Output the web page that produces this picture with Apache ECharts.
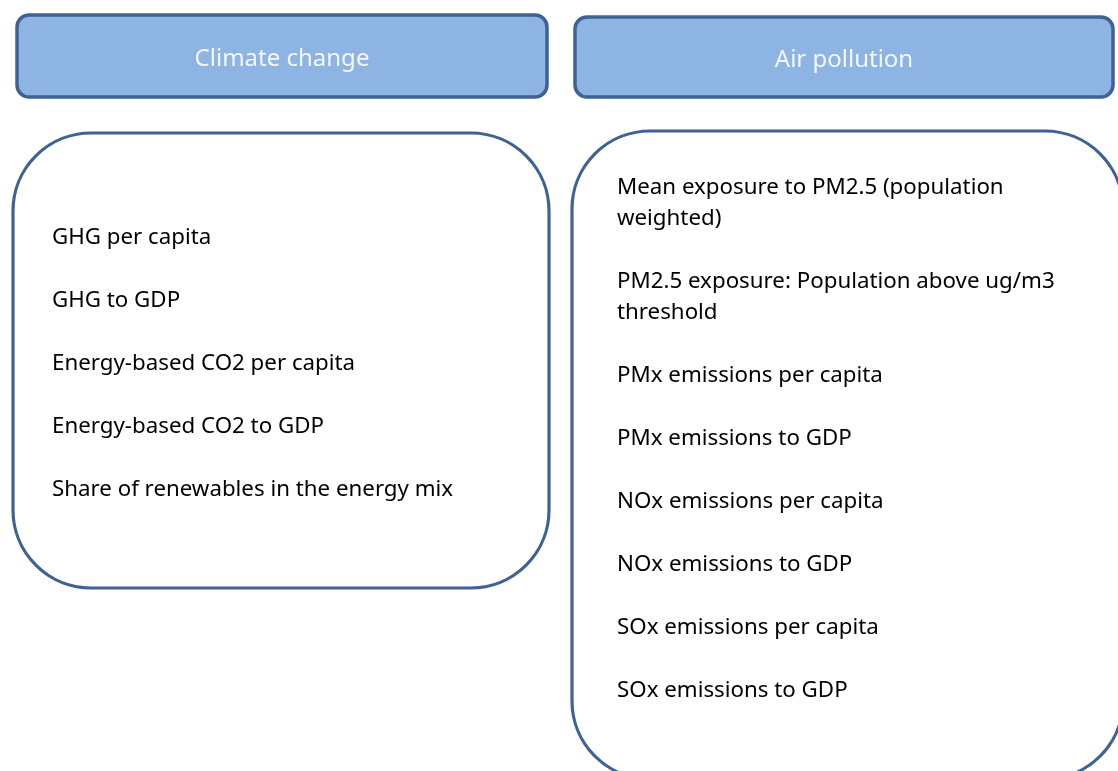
<!DOCTYPE html>
<html>
<head>
<meta charset="utf-8">
<style>
  html, body { margin: 0; padding: 0; background: #ffffff; }
  #chart { width: 1118px; height: 771px; }
</style>
<script src="https://cdn.jsdelivr.net/npm/echarts@6/dist/echarts.min.js"></script>
</head>
<body>
<div id="chart"></div>
<script>
// headers of the two panels
const headers = ['Climate change', 'Air pollution']

// indicators listed under each header
const climateItems = [
    'GHG per capita',
    'GHG to GDP',
    'Energy-based CO2 per capita',
    'Energy-based CO2 to GDP',
    'Share of renewables in the energy mix'
]
const airItems = [
    'Mean exposure to PM2.5 (population\nweighted)',
    'PM2.5 exposure: Population above ug/m3\nthreshold',
    'PMx emissions per capita',
    'PMx emissions to GDP',
    'NOx emissions per capita',
    'NOx emissions to GDP',
    'SOx emissions per capita',
    'SOx emissions to GDP'
]

const STROKE = '#3e6393'
const HEAD_FILL = '#8eb4e3'
const FONT = 'Noto Sans'

const panels = [
    { head: [17, 15, 530, 82], box: [13, 133, 536, 455], textX: 52, firstY: 237, items: climateItems },
    { head: [575, 17, 538, 80], box: [572, 131, 551, 648], textX: 617, firstY: 187, items: airItems }
]

const chart = echarts.init(document.getElementById('chart'), null, { renderer: 'canvas' })

const elements = []
panels.forEach((p, i) => {
    const [hx, hy, hw, hh] = p.head
    elements.push({
        type: 'rect',
        shape: { x: hx, y: hy, width: hw, height: hh, r: 12 },
        style: { fill: HEAD_FILL, stroke: STROKE, lineWidth: 3.5 }
    })
    elements.push({
        type: 'text',
        x: hx + hw / 2,
        y: hy + hh / 2 + 3,
        style: {
            text: headers[i],
            fill: '#f4f7fc',
            font: '24px "' + FONT + '"',
            align: 'center',
            verticalAlign: 'middle'
        }
    })
    const [bx, by, bw, bh] = p.box
    elements.push({
        type: 'rect',
        shape: { x: bx, y: by, width: bw, height: bh, r: 78 },
        style: { fill: '#ffffff', stroke: STROKE, lineWidth: 3.2 }
    })
    let y = p.firstY
    p.items.forEach(txt => {
        const lines = txt.split('\n').length
        elements.push({
            type: 'text',
            x: p.textX,
            // multi-line text is centred as a block, so push it down to keep the first line on y
            y: y + 1 + (lines - 1) * 15.5,
            style: {
                text: txt,
                fill: '#000000',
                font: '22.3px "' + FONT + '"',
                lineHeight: 31,
                align: 'left',
                verticalAlign: 'middle'
            }
        })
        // next item starts one gap below the last line of this one
        y += (lines - 1) * 31 + 63
    })
})

chart.setOption({
    backgroundColor: '#ffffff',
    animation: false,
    graphic: { elements: elements }
})

window.addEventListener('resize', () => chart.resize())
</script>
</body>
</html>
